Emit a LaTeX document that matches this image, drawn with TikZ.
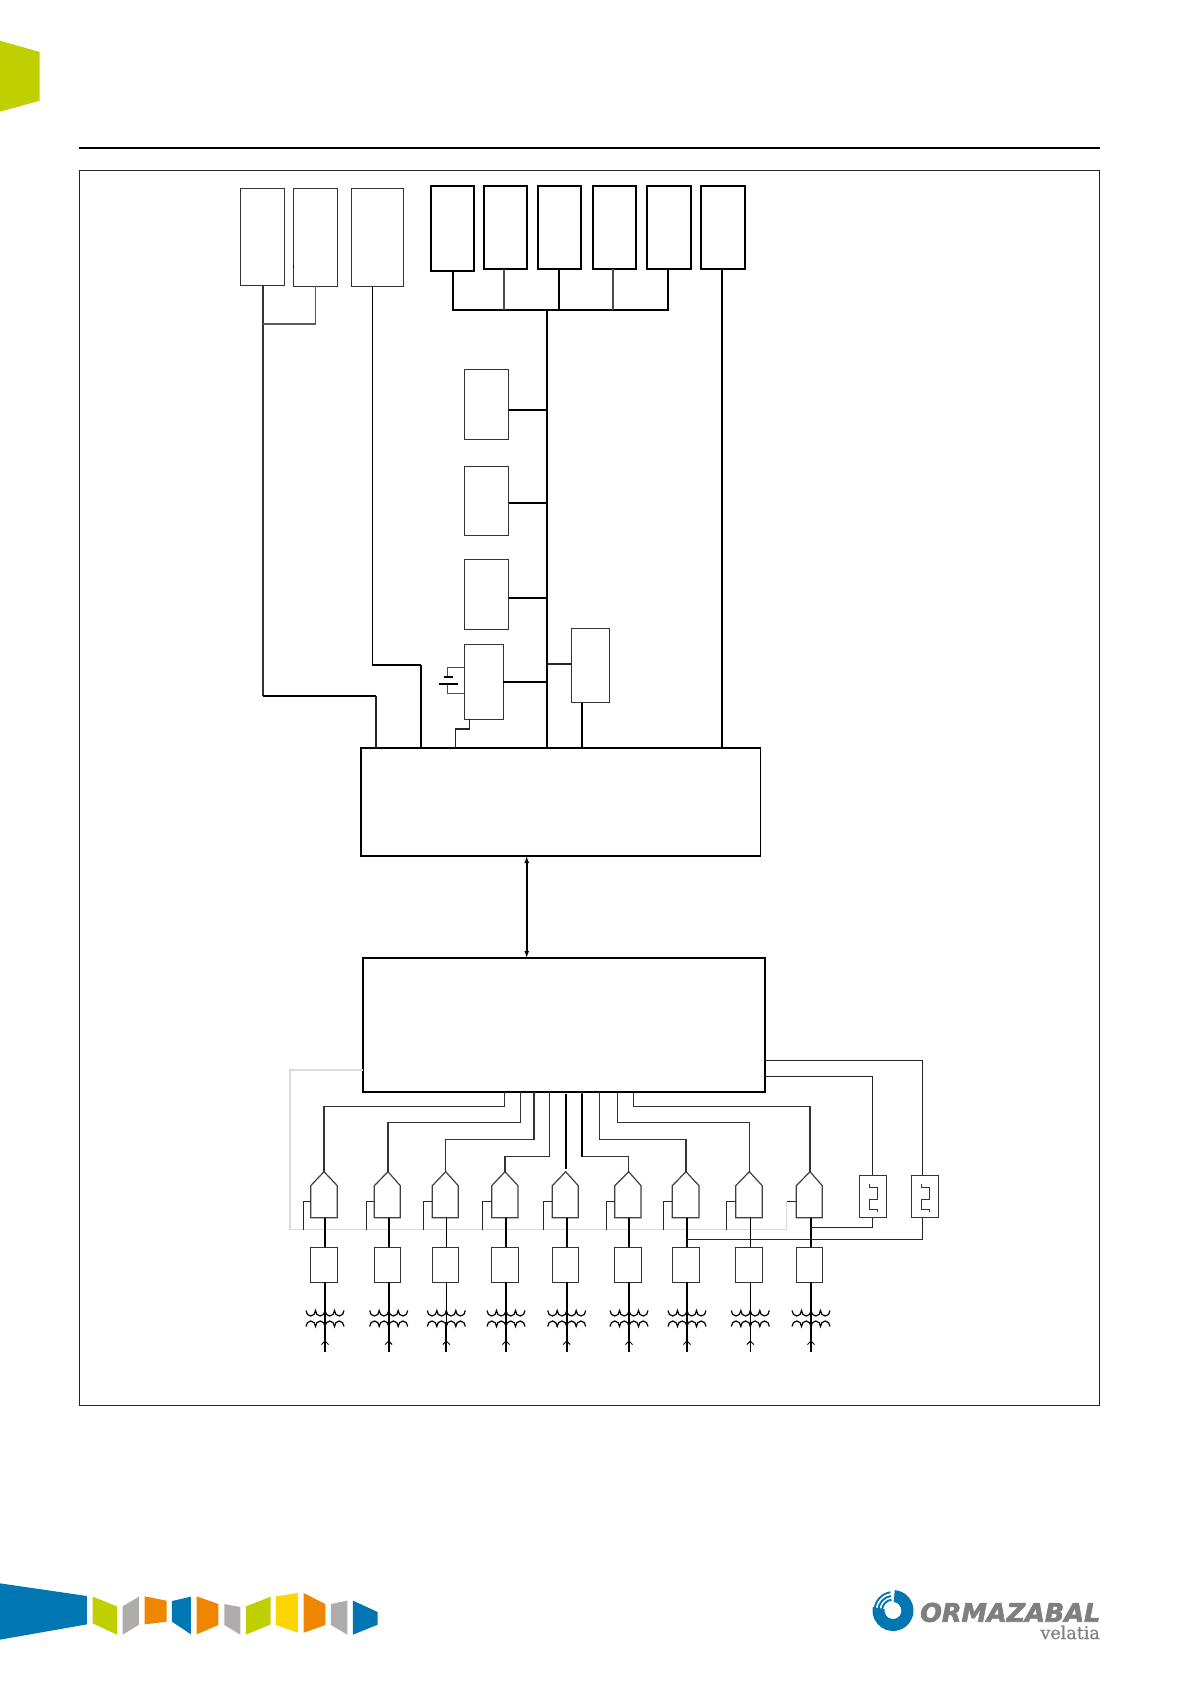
\documentclass[tikz,border=0pt]{standalone}
\usepackage{fontspec}
\setmainfont{DejaVu Sans}
\newfontfamily\logoserif[FakeBold=0.6]{DejaVu Serif}
\newfontfamily\logobold[UprightFont=* Bold Oblique,FakeBold=2.5]{DejaVu Sans}
\usetikzlibrary{arrows.meta}
\definecolor{limeg}{HTML}{BFCF00}
\definecolor{oblue}{HTML}{0077B3}
\definecolor{oorange}{HTML}{F08500}
\definecolor{ogray}{HTML}{B1ACAC}
\definecolor{oyellow}{HTML}{FFD500}
\definecolor{logogray}{HTML}{7F7F7F}
\definecolor{framegray}{HTML}{D9D9D9}
\tikzset{
  thinw/.style={line width=1.1pt,draw=black!85},
  thickw/.style={line width=2pt,draw=black},
  ghostw/.style={line width=1.2pt,draw=framegray},
  boxbase/.style={rectangle,inner sep=0pt,outer sep=0pt,fill=white},
  thinbox/.style={boxbase,draw=black!80,line width=1pt},
  heavybox/.style={boxbase,draw=black,line width=2.2pt},
  blockA/.style={boxbase,draw=black,line width=1.4pt},
  blockB/.style={boxbase,draw=black,line width=2pt},
  ghost/.style={inner sep=0pt,outer sep=0pt,rectangle},
  band/.style={inner sep=0pt}
}
\newcommand{\bx}[6][thinbox]{%
  \pgfmathsetmacro\bxw{#5-#3}\pgfmathsetmacro\bxh{#6-#4}%
  \pgfmathsetmacro\bxcx{(#5+#3)/2}\pgfmathsetmacro\bxcy{(#6+#4)/2}%
  \node[#1,minimum width=\bxw pt,minimum height=\bxh pt] (#2) at (\bxcx,\bxcy) {};%
}
\begin{document}
\begin{tikzpicture}[x=1pt,y=-1pt]
\path[use as bounding box,fill=white] (0,0) rectangle (1191,1684);

% page furniture
\fill[limeg] (0,40.7) -- (39.7,52) -- (39.7,100.7) -- (0,111.7) -- cycle;
\draw[line width=2pt] (79,147.7) -- (1100,147.7);
\draw[line width=1pt,black!85] (79.7,170.7) rectangle (1099.3,1405.3);

% gray frame behind
\coordinate (gA) at (290,1070);
\coordinate (gB) at (290,1229.7);
\coordinate (gC) at (786.7,1229.7);
\coordinate (gD) at (786.7,1201.7);

% top boxes
\bx{tl1}{240.5}{188.5}{284.5}{285.5}
\bx{tl2}{293.5}{188.5}{337.5}{286}
\bx{tl3}{351.5}{188.5}{403.5}{286.5}
\bx[heavybox]{A}{431}{186}{474}{271}
\bx[heavybox]{B}{483.7}{186}{527.3}{269}
\bx[heavybox]{C}{537.7}{186}{581.3}{269}
\bx[heavybox]{D}{592.7}{186}{636.3}{269}
\bx[heavybox]{E}{647.3}{186}{690.7}{269}
\bx[heavybox]{F}{701}{186}{744.7}{269}

% middle column
\bx{m1}{464.5}{369.5}{508.5}{439.5}
\bx{m2}{464.5}{466.5}{508.5}{535.5}
\bx{m3}{464.5}{559.5}{508.5}{629.5}
\bx{bat}{464.5}{644.5}{503}{719}
\bx{side}{571.5}{628.5}{609.5}{702.5}

% main blocks
\bx[blockA]{blk1}{361}{748}{760.4}{856}
\bx[blockB]{blk2}{363}{958}{765}{1092}

% helpers
\coordinate (busY) at (0,310);
\coordinate (spine) at (546.7,0);
\coordinate (xA) at (452.7,0);
\coordinate (xB) at (504,0);
\coordinate (xC) at (559,0);
\coordinate (xD) at (613,0);
\coordinate (xE) at (667.7,0);
\coordinate (xF) at (721.7,0);
\coordinate (xL1) at (263,0);
\coordinate (xL2) at (315.7,0);
\coordinate (xL3) at (372.5,0);
\coordinate (j1) at (263,324);
\coordinate (k1) at (263,696);
\coordinate (k1b) at (376,696);
\coordinate (k3) at (372.5,665);
\coordinate (k3b) at (421,665);
\coordinate (xSide) at (582,0);
\coordinate (xArrow) at (526.7,0);
\coordinate (m1y) at (0,409.5);
\coordinate (m2y) at (0,502.6);
\coordinate (m3y) at (0,598);

% top connectors
\draw[thickw] (xA |- A.south) -- (xA |- busY) -- (xE |- busY) -- (xE |- E.south);
\draw[line width=1.2pt,black!70] (xB |- B.south) -- (xB |- busY);
\draw[thickw] (xC |- C.south) -- (xC |- busY);
\draw[line width=1.2pt,black!70] (xD |- D.south) -- (xD |- busY);
\draw[thickw] (spine |- busY) -- (spine |- blk1.north);
\draw[thickw] (xF |- F.south) -- (xF |- blk1.north);
\draw[line width=1.3pt,black!80] (xL1 |- tl1.south) -- (k1);
\draw[line width=1.3pt,black!65] (j1) -- (j1 -| xL2) -- (xL2 |- tl2.south);
\draw[thickw,line width=1.6pt] (k1) -- (k1b);
\draw[thinw] (k1b) -- (k1b |- blk1.north);
\draw[thinw,draw=black] (xL3 |- tl3.south) -- (k3) -- (k3b);
\draw[thickw,line width=1.5pt] (k3b) -- (k3b |- blk1.north);
\draw[line width=1.3pt] (tl2.west |- 0,265) -- (tl2.west |- 0,268);

% middle connectors
\draw[thickw] (m1.east |- m1y) -- (spine |- m1y);
\draw[thickw] (m2.east |- m2y) -- (spine |- m2y);
\draw[thickw] (m3.east |- m3y) -- (spine |- m3y);
\draw[thickw] (bat.east) -- (bat.east -| spine);
\coordinate (sideY) at (0,664);
\draw[thinw] (spine |- sideY) -- (side.west |- sideY);
\draw[thickw] (xSide |- side.south) -- (xSide |- blk1.north);

% battery
\coordinate (batT) at (447.7,667.7);
\coordinate (batP1) at (447.7,677);
\coordinate (batP2) at (447.7,683.7);
\coordinate (batB) at (447.7,693.3);
\draw[thinw,line width=1.3pt,black!70] (bat.west |- batT) -- (batT) -- (batP1);
\draw[thinw,line width=1.3pt,black!70] (batP2) -- (batB) -- (bat.west |- batB);
\draw[line width=2pt] (444.3,677) -- (452.7,677);
\draw[line width=2pt] (439,683.7) -- (457.7,683.7);
\coordinate (bw1) at (469.7,729);
\coordinate (bw2) at (455.3,729);
\draw[thinw] (bw1 |- bat.south) -- (bw1) -- (bw2) -- (bw2 |- blk1.north);

% link between blocks
\draw[thickw,{Latex[length=7pt,width=5pt]}-{Latex[length=7pt,width=5pt]}] (xArrow |- blk1.south) -- (xArrow |- blk2.north);

% ghost frame
\draw[ghostw] (blk2.west |- gA) -- (gA) -- (gB) -- (gC) -- (gD);

% columns
\foreach \n/\L/\R/\A/\S/\B/\u/\a in {
  1/310.7/337.3/324/325/303.3/1.1/2,
  2/374.3/400.3/388/388.7/366.3/2/2,
  3/432.3/458.3/445.7/446.3/423.3/1.1/2,
  4/491.7/518/505/506/482.3/2/1.1,
  5/552.3/578.3/565.7/566.7/543.3/2/2,
  6/614.7/641/628.7/629/606.3/2/1.1,
  7/672.3/699/686/687/663.3/2/1.1,
  8/735.7/762.3/749.3/750.3/726.3/1.1/1.1,
  9/796.3/822.3/810/811/786.7/2/1.1}{
  \bx[ghost]{p\n}{\L}{1171.7}{\R}{1217.7}
  \bx{q\n}{\L}{1247.3}{\R}{1282}
  \coordinate (ap\n) at (\A,1171.7);
  \coordinate (st\n) at (\S,0);
  \coordinate (br\n) at (\B,1201.7);
  \coordinate (brb\n) at (\B,1229.7);
  \coordinate (tr\n) at (\S,1322);
  \coordinate (end\n) at (\S,1351.7);
  \draw[line width=1.2pt,black!75,line join=miter,fill=white]
     (p\n.south west) -- (\L,1185.7) -- (ap\n) -- (\R,1185.7) -- (p\n.south east) -- cycle;
  \draw[thinw] (\L,1201.7) -- (br\n);
  \ifnum\n<9 \draw[thinw] (br\n) -- (brb\n); \fi
  \draw[line width=\u pt,black] (st\n |- p\n.south) -- (st\n |- q\n.north);
  \draw[line width=\u pt,black] (st\n |- q\n.south) -- (tr\n);
  \draw[line width=\a pt,black] (tr\n) -- (end\n);
  \draw[line width=1pt,black] (\S-3.5,1344.5) -- (\S,1341) -- (\S+3.5,1344.5);
  % transformer windings
  \draw[line width=1.2pt,black]
     (\S-19,1310.5) arc (180:0:4.75 and 5.5) arc (180:0:4.75 and 5.5) arc (180:0:4.75 and 5.5) arc (180:0:4.75 and 5.5);
  \draw[line width=1.2pt,black]
     (\S-19,1326.5) arc (180:360:4.75 and 5.5) arc (180:360:4.75 and 5.5) arc (180:360:4.75 and 5.5) arc (180:360:4.75 and 5.5);
}

% block 2 to columns
\foreach \n/\xb/\yw in {1/504.3/1106.5,2/520.3/1122.5,3/534/1139.5,4/549.7/1156.5,
                        6/582/1156.5,7/599.3/1139.5,8/617.3/1122.5,9/633.5/1106.5}{
  \coordinate (kk\n) at (\xb,\yw);
  \draw[thinw,line width=1.1pt,black!80] (blk2.south -| kk\n) -- (kk\n) -- (kk\n -| ap\n) -- (ap\n);
}
\coordinate (c5t) at (565.7,1094);
\coordinate (c5b) at (565.7,1169);
\draw[thickw] (c5t) -- (c5b);
\coordinate (c6t) at (582,1094);
\draw[thickw] (c6t) -- (kk6);

% right boxes
\bx{rb1}{859}{1175}{886.3}{1217.7}
\bx{rb2}{911}{1175}{938.3}{1217.7}
\coordinate (rw1) at (872.7,1076.5);
\coordinate (rw2) at (922.3,1060.5);
\draw[thinw] (blk2.east |- rw1) -- (rw1) -- (rw1 |- rb1.north);
\draw[thinw] (blk2.east |- rw2) -- (rw2) -- (rw2 |- rb2.north);
\coordinate (rd1) at (872.7,1227.5);
\coordinate (rd2) at (922.3,1239.5);
\draw[thinw] (rd1 |- rb1.south) -- (rd1) -- (rd1 -| st9);
\draw[thinw] (rd2 |- rb2.south) -- (rd2) -- (rd2 -| st7);
% pulse glyphs
\draw[line width=1pt,black!80] (869.3,1184) -- (869.3,1187.7) -- (877.7,1187.7) -- (877.7,1199) -- (869.3,1199) -- (869.3,1209.3) -- (877.7,1209.3) -- (877.7,1212.3);
\draw[line width=1pt,black!80] (921,1184) -- (921,1187.7) -- (929.3,1187.7) -- (929.3,1199) -- (921,1199) -- (921,1209.3) -- (929.3,1209.3) -- (929.3,1212.3);

% footer band
\begin{scope}[shift={(0,1570)},x=0.33333pt,y=-0.33333pt]
\fill[oblue] (0,40) -- (261,78) -- (261,163) -- (0,209) -- cycle;
\fill[limeg] (278,80) -- (351,109) -- (351,194) -- (278,160) -- cycle;
\fill[ogray] (368,109) -- (417,80) -- (417,164) -- (368,194) -- cycle;
\fill[oorange] (434,79) -- (500,92) -- (500,155) -- (434,163) -- cycle;
\fill[oblue] (516,93) -- (573,80) -- (573,193) -- (516,155) -- cycle;
\fill[oorange] (590,79) -- (655,102) -- (655,165) -- (590,193) -- cycle;
\fill[ogray] (673,102) -- (721,111) -- (721,194) -- (673,165) -- cycle;
\fill[limeg] (738,109) -- (812,80) -- (812,163) -- (738,194) -- cycle;
\fill[oyellow] (828,79) -- (894,69) -- (894,188) -- (828,165) -- cycle;
\fill[oorange] (911,69) -- (976,102) -- (976,165) -- (911,188) -- cycle;
\fill[ogray] (993,102) -- (1042,92) -- (1042,194) -- (993,165) -- cycle;
\fill[oblue] (1059,92) -- (1133,126) -- (1133,164) -- (1059,194) -- cycle;
\end{scope}

% logo
\begin{scope}[shift={(893,1610.5)},y=1pt]
\fill[oblue] (85:20.5) arc[start angle=85,end angle=-190,radius=20.5] -- (-190:8.5) arc[start angle=-190,end angle=85,radius=8.5] -- cycle;
\foreach \r in {11,14.7,18.4}
  \draw[oblue,line width=1.9pt] (98:\r) arc[start angle=98,end angle=178,radius=\r];
\end{scope}
\node[band,anchor=base east,text=logogray,font=\logobold\fontsize{25.5}{26}\selectfont] (brand) at (1100.5,1621.7) {ORMAZABAL};
\node[band,anchor=base east,text=logogray,font=\logoserif\fontsize{17.5}{18}\selectfont] (sub) at (1100,1639) {velatia};
\end{tikzpicture}
\end{document}
